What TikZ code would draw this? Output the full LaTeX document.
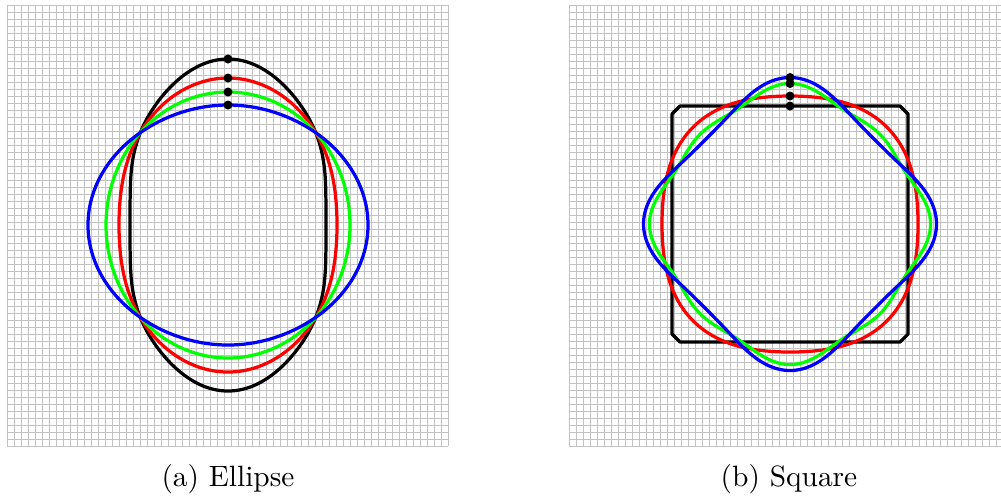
\documentclass[tikz,border=0pt]{standalone}
\usepackage{tikz}
\usetikzlibrary{positioning}

\begin{document}
\begin{tikzpicture}[x=0.34pt, y=-0.34pt, font=\normalsize,
    gridline/.style={draw=black!24, line width=0.42pt},
    curve/.style={line width=1.1pt, line join=round},
    caption/.style={align=center, inner sep=1pt}]
    \useasboundingbox (0,0) rectangle (1001,498);
    \clip (0,0) rectangle (1001,498);

    % background grids, 63 x 63 cells each
    \foreach \i in {0,...,63} {
        \draw[gridline] ({7.5+\i*7},5) -- ({7.5+\i*7},446);
        \draw[gridline] (7,{5.5+\i*7}) -- (448,{5.5+\i*7});
        \draw[gridline] ({569.5+\i*7},5) -- ({569.5+\i*7},446);
        \draw[gridline] (569,{5.5+\i*7}) -- (1010,{5.5+\i*7});
    }

    % (a) ellipse and its flow
    \begin{scope}[shift={(228,225)}]
        \draw[curve, black] plot[smooth cycle, domain=0:358, samples=180]
            (\x:{98/sqrt(cos(\x)^2+0.34853*sin(\x)^2)+3.8*sin(2*\x)^2+2.7*sin(2*\x)^4});
        \draw[curve, red] plot[smooth cycle, domain=0:358, samples=180]
            (\x:{109/sqrt(cos(\x)^2+0.54982*sin(\x)^2)+2.7*sin(2*\x)^2});
        \draw[curve, green] plot[smooth cycle, domain=0:358, samples=180]
            (\x:{122/sqrt(cos(\x)^2+0.84143*sin(\x)^2)});
        \draw[curve, blue] plot[smooth cycle, domain=0:358, samples=180]
            (\x:{140/sqrt(cos(\x)^2+1.36111*sin(\x)^2)-1*sin(2*\x)^2});
        \foreach \r in {166,147,133,120}
            \fill (0,-\r) circle[radius=4.5];
    \end{scope}

    % (b) square and its flow
    \begin{scope}[shift={(790,224)}]
        \draw[curve, black] (-118,-110) -- (-110,-118) -- (110,-118) -- (118,-110)
            -- (118,110) -- (110,118) -- (-110,118) -- (-118,110) -- cycle;
        \draw[curve, red] plot[smooth cycle, domain=0:358, samples=180]
            (\x:{132.5-4.5*cos(4*\x)});
        \draw[curve, green] plot[smooth cycle, domain=0:358, samples=180]
            (\x:{130.5+6.75*cos(4*\x)+3.3*cos(8*\x)});
        \draw[curve, blue] plot[smooth cycle, domain=0:358, samples=180]
            (\x:{131.6+13.5*cos(4*\x)+1.4*cos(8*\x)});
        \foreach \r in {118,128,140.5,146.5}
            \fill (0,-\r) circle[radius=4.5];
    \end{scope}

    \node[caption] (capA) at (228,479) {(a) Ellipse};
    \node[caption] (capB) at (789,479) {(b) Square};
\end{tikzpicture}
\end{document}
